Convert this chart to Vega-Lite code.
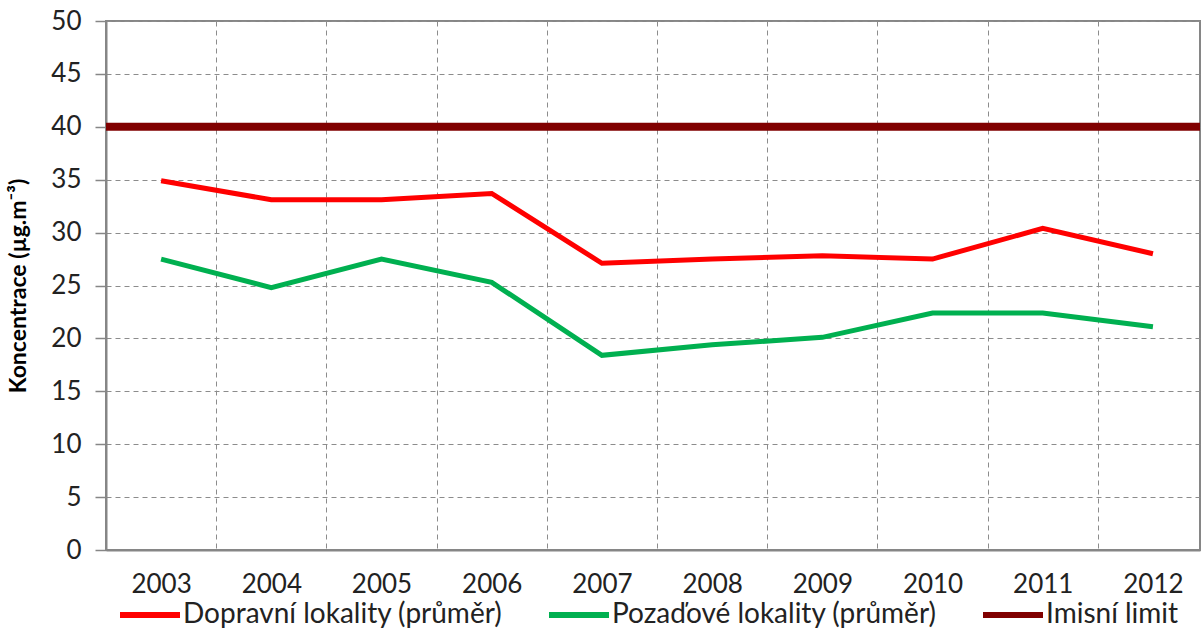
{
  "$schema": "https://vega.github.io/schema/vega-lite/v6.json",
  "autosize": {"type": "fit", "contains": "padding"},
  "width": 1204,
  "height": 629,
  "padding": {"left": 7, "right": 0, "top": 8, "bottom": 32},
  "config": {
    "font": "Lato",
    "view": {"stroke": "#868686", "strokeWidth": 2},
    "axis": {"labelFont": "Lato", "labelColor": "#222222", "labelFontSize": 26, "titleFont": "Lato", "domainColor": "#868686", "domainWidth": 2, "tickColor": "#868686"},
    "legend": {"labelFont": "Lato", "labelFontSize": 28, "labelColor": "#222222"}
  },
  "datasets": {
    "series": [
      {"year": 2003, "series": "Dopravní lokality (průměr)", "value": 34.9},
      {"year": 2004, "series": "Dopravní lokality (průměr)", "value": 33.1},
      {"year": 2005, "series": "Dopravní lokality (průměr)", "value": 33.1},
      {"year": 2006, "series": "Dopravní lokality (průměr)", "value": 33.7},
      {"year": 2007, "series": "Dopravní lokality (průměr)", "value": 27.1},
      {"year": 2008, "series": "Dopravní lokality (průměr)", "value": 27.5},
      {"year": 2009, "series": "Dopravní lokality (průměr)", "value": 27.8},
      {"year": 2010, "series": "Dopravní lokality (průměr)", "value": 27.5},
      {"year": 2011, "series": "Dopravní lokality (průměr)", "value": 30.4},
      {"year": 2012, "series": "Dopravní lokality (průměr)", "value": 28.0},
      {"year": 2003, "series": "Pozaďové lokality (průměr)", "value": 27.5},
      {"year": 2004, "series": "Pozaďové lokality (průměr)", "value": 24.8},
      {"year": 2005, "series": "Pozaďové lokality (průměr)", "value": 27.5},
      {"year": 2006, "series": "Pozaďové lokality (průměr)", "value": 25.3},
      {"year": 2007, "series": "Pozaďové lokality (průměr)", "value": 18.4},
      {"year": 2008, "series": "Pozaďové lokality (průměr)", "value": 19.4},
      {"year": 2009, "series": "Pozaďové lokality (průměr)", "value": 20.1},
      {"year": 2010, "series": "Pozaďové lokality (průměr)", "value": 22.4},
      {"year": 2011, "series": "Pozaďové lokality (průměr)", "value": 22.4},
      {"year": 2012, "series": "Pozaďové lokality (průměr)", "value": 21.1}
    ],
    "limit": [
      {"series": "Imisní limit", "value": 40}
    ]
  },
  "layer": [
    {
      "data": {"name": "series"},
      "mark": {"type": "line", "strokeWidth": 5},
      "encoding": {
        "x": {
          "field": "year",
          "type": "quantitative",
          "scale": {"domain": [2002.5, 2012.427], "nice": false, "zero": false},
          "axis": {
            "title": null,
            "values": [2002.5, 2003, 2003.5, 2004, 2004.5, 2005, 2005.5, 2006, 2006.5, 2007, 2007.5, 2008, 2008.5, 2009, 2009.5, 2010, 2010.5, 2011, 2011.5, 2012],
            "labelExpr": "datum.value % 1 === 0 ? format(datum.value, 'd') : ''",
            "ticks": false,
            "labelPadding": 21,
            "labelFlush": false,
            "labelOverlap": false,
            "grid": true,
            "gridDash": [5, 4],
            "gridColor": "#8c8c8c",
            "gridWidth": 1,
            "gridOpacity": {"condition": {"test": "datum.value % 1 !== 0", "value": 1}, "value": 0}
          }
        },
        "y": {
          "field": "value",
          "type": "quantitative",
          "scale": {"domain": [0, 50], "nice": false},
          "axis": {
            "title": "Koncentrace (µg.m⁻³)",
            "titleFontSize": 23,
            "titleFontWeight": "bold",
            "titleColor": "#000000",
            "titlePadding": 20,
            "values": [0, 5, 10, 15, 20, 25, 30, 35, 40, 45, 50],
            "tickSize": 11,
            "tickWidth": 1.5,
            "labelPadding": 14,
            "grid": true,
            "gridDash": [5, 4],
            "gridColor": "#8c8c8c",
            "gridWidth": 1
          }
        },
        "color": {
          "field": "series",
          "type": "nominal",
          "scale": {
            "domain": ["Dopravní lokality (průměr)", "Pozaďové lokality (průměr)", "Imisní limit"],
            "range": ["#ff0000", "#00b050", "#800000"]
          },
          "legend": {
            "title": null,
            "orient": "none",
            "legendX": 5,
            "legendY": 580,
            "direction": "horizontal",
            "symbolType": "M-1,0H11",
            "symbolSize": 100,
            "symbolStrokeWidth": 6,
            "symbolFillColor": "transparent",
            "labelOffset": 44,
            "labelLimit": 500,
            "columnPadding": 34
          }
        }
      }
    },
    {
      "data": {"name": "limit"},
      "mark": {"type": "rule", "strokeWidth": 8},
      "encoding": {
        "y": {"field": "value", "type": "quantitative"},
        "color": {"field": "series", "type": "nominal"}
      }
    }
  ]
}
